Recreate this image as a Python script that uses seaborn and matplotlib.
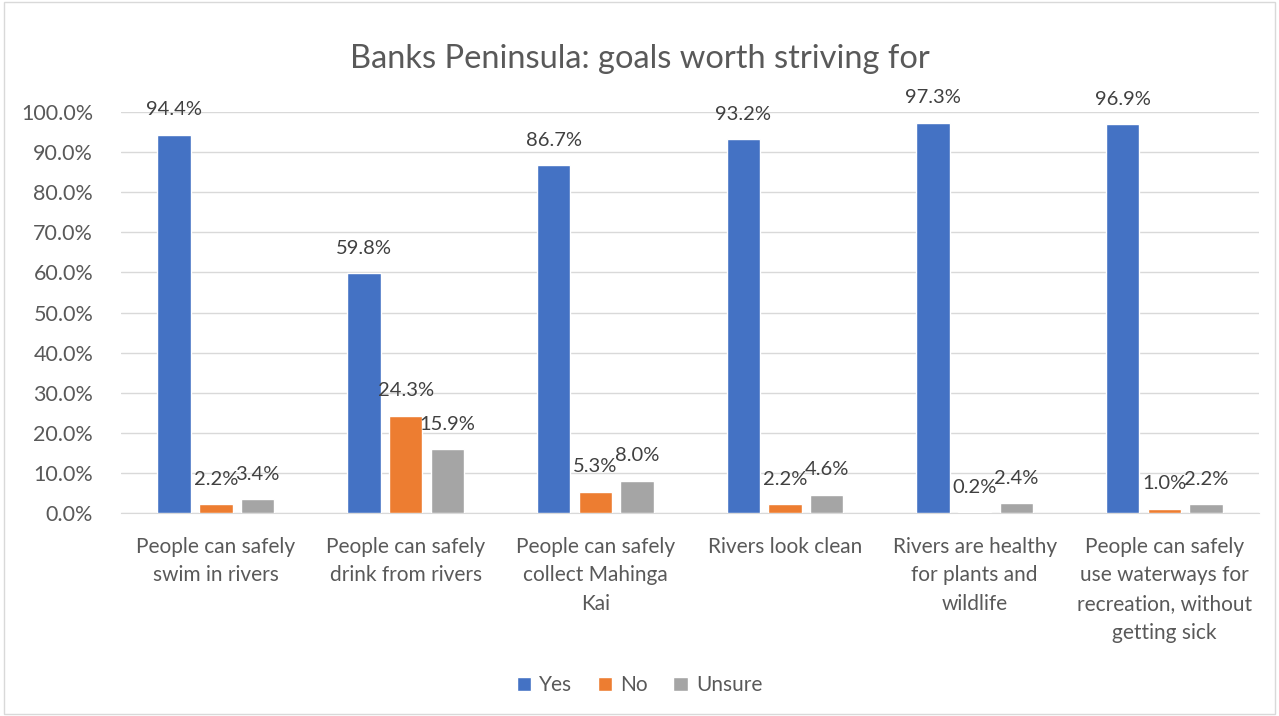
import pandas as pd
import matplotlib
matplotlib.use('Agg')
import matplotlib.pyplot as plt
import seaborn as sns
from matplotlib.patches import Patch, Rectangle

# chart data
categories = [
    'People can safely\nswim in rivers',
    'People can safely\ndrink from rivers',
    'People can safely\ncollect Mahinga\nKai',
    'Rivers look clean',
    'Rivers are healthy\nfor plants and\nwildlife',
    'People can safely\nuse waterways for\nrecreation, without\ngetting sick',
]
series = ['Yes', 'No', 'Unsure']
yes_vals = [94.4, 59.8, 86.7, 93.2, 97.3, 96.9]
no_vals = [2.2, 24.3, 5.3, 2.2, 0.2, 1.0]
unsure_vals = [3.4, 15.9, 8.0, 4.6, 2.4, 2.2]
colors = ['#4472C4', '#ED7D31', '#A5A5A5']

rows = []
for s, vals in zip(series, [yes_vals, no_vals, unsure_vals]):
    for c, v in zip(categories, vals):
        rows.append({'Goal': c, 'Answer': s, 'Pct': v})
df = pd.DataFrame(rows)

sns.set_style('white')
plt.rcParams['font.family'] = ['Lato', 'DejaVu Sans']
text_col = '#595959'

fig = plt.figure(figsize=(12.79, 7.16), dpi=100)
ax = fig.add_axes([0.0946, 0.2835, 0.890, 0.560])

sns.barplot(data=df, x='Goal', y='Pct', hue='Answer', order=categories,
            hue_order=series, palette=colors, width=0.66, gap=0.2,
            saturation=1, ax=ax, legend=False, zorder=3)

for cont in ax.containers:
    ax.bar_label(cont, labels=[f'{v:.1f}%' for v in cont.datavalues],
                 padding=12, fontsize=14.5, color='#404040')

ax.set_ylim(0, 100)
ax.set_xlim(-0.5, 5.5)
ax.set_yticks(range(0, 101, 10))
ax.set_yticklabels([f'{t:.1f}%' for t in range(0, 101, 10)])
ax.yaxis.grid(True, color='#D9D9D9', linewidth=1, zorder=0)
ax.set_axisbelow(True)
for sp in ['top', 'right', 'left']:
    ax.spines[sp].set_visible(False)
ax.spines['bottom'].set_color('#D9D9D9')
ax.tick_params(axis='y', length=0, labelsize=15.5, labelcolor=text_col, pad=20)
ax.tick_params(axis='x', length=0, labelsize=15, labelcolor=text_col, pad=17)
for lbl in ax.get_xticklabels():
    lbl.set_linespacing(1.55)
ax.set_xlabel('')
ax.set_ylabel('')

fig.text(0.5, 0.918, 'Banks Peninsula: goals worth striving for',
         ha='center', va='center', fontsize=23.5, color=text_col)

handles = [Patch(facecolor=c, label=s) for c, s in zip(colors, series)]
fig.legend(handles=handles, loc='center', bbox_to_anchor=(0.5, 0.043), ncol=3,
           frameon=False, fontsize=15, handlelength=0.7, handleheight=0.7,
           columnspacing=1.2, handletextpad=0.4, labelcolor=text_col)

fig.patches.append(Rectangle((0.003, 0.003), 0.994, 0.994, transform=fig.transFigure,
                             fill=False, edgecolor='#D9D9D9', linewidth=1))

fig.savefig('out.png', dpi=100)
